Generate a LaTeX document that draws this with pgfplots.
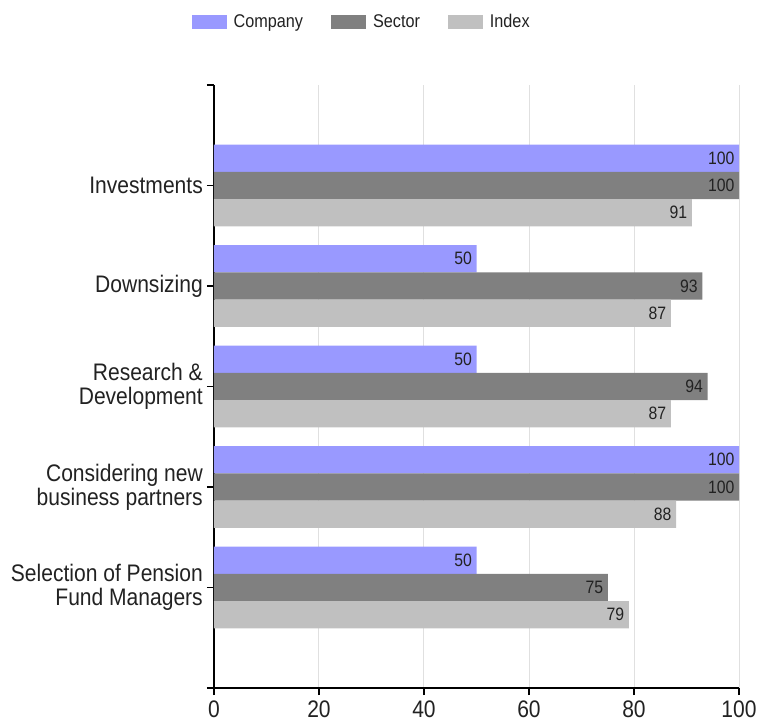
\documentclass[border=0pt]{standalone}
\usepackage{fontspec}
\setmainfont[FakeStretch=0.88]{Liberation Sans}
\usepackage{pgfplots}
\pgfplotsset{compat=1.18}

\definecolor{company}{RGB}{153,153,255}
\definecolor{sector}{RGB}{128,128,128}
\definecolor{indexc}{RGB}{192,192,192}
\definecolor{txt}{RGB}{34,34,34}

% categories bottom to top: 0 Selection, 1 Considering, 2 R&D, 3 Downsizing, 4 Investments
\pgfplotstableread{
y company sector index
0 50 75 79
1 100 100 88
2 50 94 87
3 50 93 87
4 100 100 91
}\scores

\begin{document}
\begin{tikzpicture}
\path[use as bounding box] (-214bp,-33bp) rectangle (543bp,688bp);
\begin{axis}[
    scale only axis,
    width=525bp, height=603bp,
    xbar, bar width=27.3bp,
    xmin=0, xmax=100, ymin=-1, ymax=5,
    axis x line*=bottom, axis y line*=left,
    axis line style={black, line width=1.2bp},
    tick style={black, line width=1.2bp},
    tick align=outside, major tick length=7bp,
    xtick={0,20,40,60,80,100},
    xmajorgrids, grid style={draw=black!12, line width=1bp},
    ytick={-1,0,1,2,3,4,5},
    yticklabels={,{Selection of Pension\\Fund Managers},{Considering new\\business partners},{Research \&\\Development},Downsizing,Investments,},
    yticklabel style={align=right, font=\fontsize{24}{24}\selectfont, text=txt, inner sep=1bp, xshift=-3bp},
    xticklabel style={font=\fontsize{24}{26}\selectfont, text=txt, yshift=-2bp},
    /pgf/number format/assume math mode=true,
    nodes near coords,
    every node near coord/.append style={anchor=east, font=\fontsize{18}{20}\selectfont, text=txt, xshift=-1bp},
    legend style={at={(0.286,1.1045)}, anchor=center, draw=none, legend columns=3,
        font=\fontsize{18.5}{20}\selectfont, text=txt,
        nodes={inner xsep=7bp},
        /tikz/every even column/.append style={column sep=21bp}},
    legend image code/.code={\fill[#1] (0bp,-7bp) rectangle (35bp,7bp);},
]
\addplot[fill=company, draw=none, bar shift=27.3bp] table[x=company, y=y] {\scores};
\addplot[fill=sector, draw=none, bar shift=0bp] table[x=sector, y=y] {\scores};
\addplot[fill=indexc, draw=none, bar shift=-27.3bp] table[x=index, y=y] {\scores};
\legend{Company, Sector, Index}
\end{axis}
\end{tikzpicture}
\end{document}
